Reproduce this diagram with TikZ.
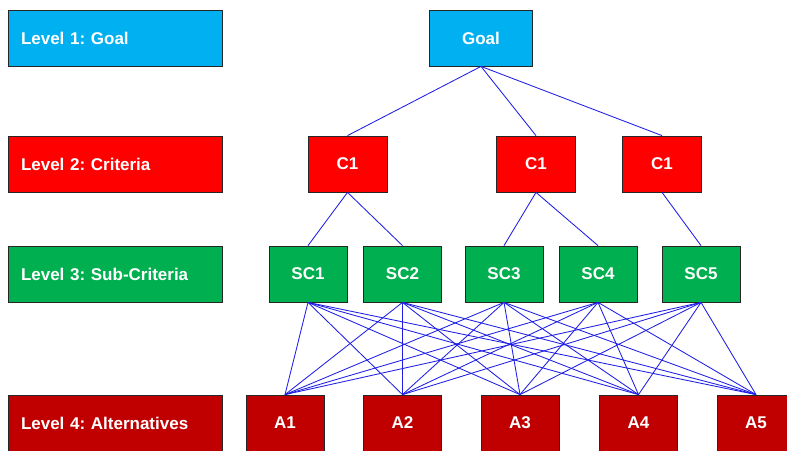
\documentclass[tikz,border=0pt]{standalone}
\usepackage{fontspec}
\setmainfont{Liberation Sans}
\frenchspacing
\definecolor{cgoal}{HTML}{00B0F0}
\definecolor{ccrit}{HTML}{FF0000}
\definecolor{csub}{HTML}{00B050}
\definecolor{calt}{HTML}{C00000}
\definecolor{clink}{RGB}{30,30,230}
\tikzset{
  box/.style={draw=black!85, line width=0.8pt, text=white, inner sep=0pt,
    font=\bfseries\fontsize{17}{20}\selectfont, minimum height=56pt},
  lvl/.style={box, text width=188pt, inner xsep=13pt, align=left, minimum width=214pt},
  link/.style={draw=clink, line width=0.85pt},
}
\begin{document}
\begin{tikzpicture}[x=1pt,y=-1pt]
\clip (0,0) rectangle (787,450);
\useasboundingbox (0,0) rectangle (787,450);
\fill[white] (0,0) rectangle (787,450);
% level labels
\node[lvl, fill=cgoal] (l1) at (115,38) {Level 1: Goal};
\node[lvl, fill=ccrit] (l2) at (115,164) {Level 2: Criteria};
\node[lvl, fill=csub]  (l3) at (115,274) {Level 3: Sub-Criteria};
\node[lvl, fill=calt]  (l4) at (115,423) {Level 4: Alternatives};
% goal
\node[box, fill=cgoal, minimum width=103pt] (g) at (481,38) {Goal};
% criteria
\node[box, fill=ccrit, minimum width=79pt] (c1) at (347.5,164) {C1};
\node[box, fill=ccrit, minimum width=79pt] (c2) at (536,164) {C1};
\node[box, fill=ccrit, minimum width=79pt] (c3) at (662,164) {C1};
% sub-criteria
\node[box, fill=csub, minimum width=78pt] (s1) at (308,274) {SC1};
\node[box, fill=csub, minimum width=78pt] (s2) at (402.5,274) {SC2};
\node[box, fill=csub, minimum width=78pt] (s3) at (504,274) {SC3};
\node[box, fill=csub, minimum width=78pt] (s4) at (598,274) {SC4};
\node[box, fill=csub, minimum width=78pt] (s5) at (701,274) {SC5};
% alternatives
\node[box, fill=calt, minimum width=78pt] (a1) at (285,423) {A1};
\node[box, fill=calt, minimum width=78pt] (a2) at (402.5,423) {A2};
\node[box, fill=calt, minimum width=78pt] (a3) at (520,423) {A3};
\node[box, fill=calt, minimum width=78pt] (a4) at (638.5,423) {A4};
\node[box, fill=calt, minimum width=78pt] (a5) at (756,423) {A5};
% links
\foreach \c in {c1,c2,c3} \draw[link] (g.south) -- (\c.north);
\draw[link] (c1.south) -- (s1.north);
\draw[link] (c1.south) -- (s2.north);
\draw[link] (c2.south) -- (s3.north);
\draw[link] (c2.south) -- (s4.north);
\draw[link] (c3.south) -- (s5.north);
\foreach \s in {s1,s2,s3,s4,s5}
  \foreach \a in {a1,a2,a3,a4,a5}
    \draw[link] (\s.south) -- (\a.north);
\end{tikzpicture}
\end{document}
